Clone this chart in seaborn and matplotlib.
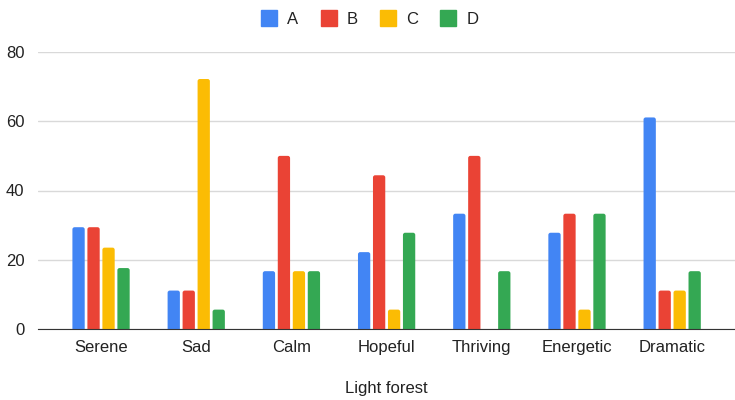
import matplotlib
matplotlib.use("Agg")
import matplotlib.pyplot as plt
from matplotlib.patches import FancyBboxPatch
import seaborn as sns
import pandas as pd

moods = ['Serene', 'Sad', 'Calm', 'Hopeful', 'Thriving', 'Energetic', 'Dramatic']
a_vals = [29.4, 11.1, 16.7, 22.2, 33.3, 27.8, 61.1]
b_vals = [29.4, 11.1, 50.0, 44.4, 50.0, 33.3, 11.1]
c_vals = [23.5, 72.2, 16.7, 5.6, 0.0, 5.6, 11.1]
d_vals = [17.6, 5.6, 16.7, 27.8, 16.7, 33.3, 16.7]
series = ['A', 'B', 'C', 'D']
colors = ['#4285F4', '#EA4335', '#FBBC04', '#34A853']

df = pd.DataFrame({'mood': moods, 'A': a_vals, 'B': b_vals, 'C': c_vals, 'D': d_vals})
long = df.melt(id_vars='mood', var_name='series', value_name='value')

sns.set_style('white')
plt.rcParams['font.family'] = ['Liberation Sans', 'DejaVu Sans']

fig = plt.figure(figsize=(7.35, 4), dpi=100)
ax = fig.add_axes([0.052, 0.1775, 0.948, 0.6925])

sns.barplot(data=long, x='mood', y='value', hue='series', order=moods,
            hue_order=series, palette=colors, width=0.63, gap=0.18,
            saturation=1, ax=ax, legend=False)

ax.set_ylim(0, 80)
ax.set_xlim(-0.66, 6.66)

# round the bar tops a little (2px radius)
px_x = 7.32 / 697
px_y = 80 / 277
for p in list(ax.patches):
    h = p.get_height()
    if h <= 0:
        p.remove()
        continue
    x, w = p.get_x(), p.get_width()
    r = 2.2 * px_x
    fb = FancyBboxPatch((x, -3 * px_y), w, h + 3 * px_y,
                        boxstyle=f"round,pad=0,rounding_size={r}",
                        mutation_aspect=px_y / px_x,
                        facecolor=p.get_facecolor(), edgecolor='none',
                        zorder=p.get_zorder())
    p.remove()
    ax.add_patch(fb)

ax.set_yticks([0, 20, 40, 60, 80])
ax.yaxis.grid(True, color='#d9d9d9', linewidth=1)
ax.set_axisbelow(True)
for s in ['top', 'right', 'left']:
    ax.spines[s].set_visible(False)
ax.spines['bottom'].set_color('#333333')
ax.spines['bottom'].set_zorder(5)
ax.tick_params(axis='both', length=0, labelsize=12, colors='#222222')
ax.tick_params(axis='x', pad=8)
ax.tick_params(axis='y', pad=10)
ax.set_ylabel('')
ax.set_xlabel('Light forest', fontsize=12, color='#222222', labelpad=19)

handles = [plt.Line2D([], [], marker='s', linestyle='', markersize=11,
                      color=c) for c in colors]
fig.legend(handles, series, loc='upper center', ncol=4, frameon=False,
           bbox_to_anchor=(0.503, 1.008), fontsize=12, handlelength=1.0,
           handletextpad=0.6, columnspacing=1.3, labelcolor='#222222')

fig.savefig('out.png', dpi=100)
